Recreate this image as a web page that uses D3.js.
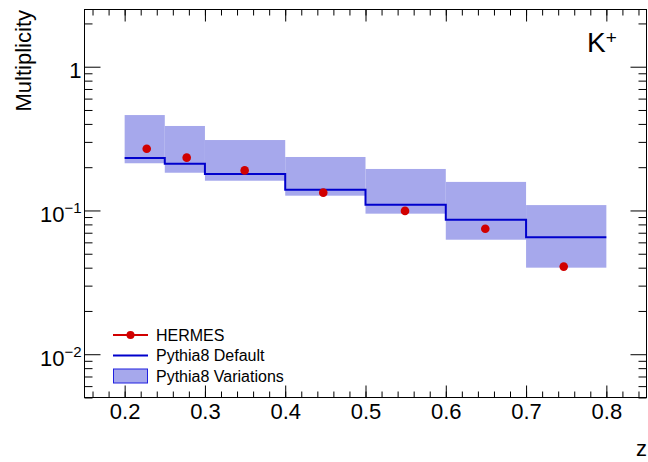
<!DOCTYPE html>
<html>
<head>
<meta charset="utf-8">
<script src="https://d3js.org/d3.v7.min.js"></script>
<style>
  body { margin: 0; background: #fff; }
  svg { display: block; font-family: "Liberation Sans", Arial, Helvetica, sans-serif; }
</style>
</head>
<body>
<div id="body"></div>
<script>
let binEdges = [0.2, 0.25, 0.3, 0.4, 0.5, 0.6, 0.7, 0.8];
let pythiaDefault = [0.232, 0.211, 0.179, 0.1395, 0.1097, 0.0863, 0.0651];
let pythiaUp = [0.461, 0.387, 0.309, 0.2355, 0.1944, 0.158, 0.109];
let pythiaDown = [0.213, 0.183, 0.161, 0.1267, 0.095, 0.0626, 0.040];
let hermesZ = [0.2275, 0.2773, 0.3495, 0.4474, 0.5492, 0.6492, 0.7469];
let hermesMult = [0.269, 0.233, 0.190, 0.133, 0.0993, 0.0747, 0.0407];

let xMajor = [0.2, 0.3, 0.4, 0.5, 0.6, 0.7, 0.8];
let xMinor = d3.range(8, 43).map((d) => d / 50);
let yMajor = [1, 0.1, 0.01];
let yMajorLabels = [["1", ""], ["10", "\u22121"], ["10", "\u22122"]];
let yMinor = [0.005, 0.006, 0.007, 0.008, 0.009,
  0.02, 0.03, 0.04, 0.05, 0.06, 0.07, 0.08, 0.09,
  0.2, 0.3, 0.4, 0.5, 0.6, 0.7, 0.8, 0.9, 2];
let legendLabels = ["HERMES", "Pythia8 Default", "Pythia8 Variations"];

let width = 648,
  height = 462;
let padL = 84.5,
  padR = 646.5,
  padT = 9.5,
  padB = 397.5;

let red = "#d10000",
  blue = "#0000cc",
  band = "#a6a8ec";

let svg = d3
  .select("#body")
  .append("svg")
  .attr("width", width)
  .attr("height", height);

let x = d3.scaleLinear().domain([0.15, 0.85]).range([padL, padR]);
let y = d3.scaleLog().domain([0.005, 2.5]).range([padB, padT]);

//variation band, one box per bin
let bins = pythiaDefault.map((v, i) => ({
  lo: binEdges[i],
  hi: binEdges[i + 1],
  val: v,
  up: pythiaUp[i],
  down: pythiaDown[i],
}));

svg
  .append("g")
  .selectAll("rect")
  .data(bins)
  .enter()
  .append("rect")
  .attr("x", (d) => x(d.lo))
  .attr("width", (d) => x(d.hi) - x(d.lo))
  .attr("y", (d) => y(d.up))
  .attr("height", (d) => y(d.down) - y(d.up))
  .style("fill", band);

//default histogram as a step line
let stepPts = bins.map((d) => [d.lo, d.val]);
stepPts.push([binEdges[binEdges.length - 1], pythiaDefault[pythiaDefault.length - 1]]);
let step = d3
  .line()
  .x((d) => x(d[0]))
  .y((d) => y(d[1]))
  .curve(d3.curveStepAfter);

svg
  .append("path")
  .attr("d", step(stepPts))
  .style("fill", "none")
  .style("stroke", blue)
  .style("stroke-width", 2);

//HERMES data points
svg
  .append("g")
  .selectAll("circle")
  .data(hermesZ)
  .enter()
  .append("circle")
  .attr("cx", (d) => x(d))
  .attr("cy", (d, i) => y(hermesMult[i]))
  .attr("r", 4.3)
  .style("fill", red);

//axes: ticks on all four sides, pointing inwards
function noDomain(g) {
  g.select(".domain").remove();
  g.selectAll("line").style("stroke", "#000");
}

svg
  .append("g")
  .attr("transform", "translate(0," + padB + ")")
  .call(d3.axisBottom(x).tickValues(xMajor).tickSize(-12).tickPadding(6).tickFormat(d3.format(".1f")))
  .call(noDomain)
  .call((g) => g.selectAll("text").style("font-size", "22px").style("fill", "#000"))
  .attr("font-family", null)
  .attr("font-size", null);
svg
  .append("g")
  .attr("transform", "translate(0," + padB + ")")
  .call(d3.axisBottom(x).tickValues(xMinor).tickSize(-6).tickFormat(""))
  .call(noDomain);
svg
  .append("g")
  .attr("transform", "translate(0," + padT + ")")
  .call(d3.axisTop(x).tickValues(xMajor).tickSize(-12).tickFormat(""))
  .call(noDomain);
svg
  .append("g")
  .attr("transform", "translate(0," + padT + ")")
  .call(d3.axisTop(x).tickValues(xMinor).tickSize(-6).tickFormat(""))
  .call(noDomain);

svg
  .append("g")
  .attr("transform", "translate(" + padL + ",0)")
  .call(d3.axisLeft(y).tickValues(yMajor).tickSize(-16).tickFormat(""))
  .call(noDomain);
svg
  .append("g")
  .attr("transform", "translate(" + padL + ",0)")
  .call(d3.axisLeft(y).tickValues(yMinor).tickSize(-8).tickFormat(""))
  .call(noDomain);
svg
  .append("g")
  .attr("transform", "translate(" + padR + ",0)")
  .call(d3.axisRight(y).tickValues(yMajor).tickSize(-16).tickFormat(""))
  .call(noDomain);
svg
  .append("g")
  .attr("transform", "translate(" + padR + ",0)")
  .call(d3.axisRight(y).tickValues(yMinor).tickSize(-8).tickFormat(""))
  .call(noDomain);

//y labels with superscript exponents
let yLab = svg
  .append("g")
  .selectAll("text")
  .data(yMajor)
  .enter()
  .append("text")
  .attr("x", padL - 3)
  .attr("y", (d) => y(d) + 11.5)
  .attr("text-anchor", "end")
  .style("font-size", "22px");
yLab.append("tspan").text((d, i) => yMajorLabels[i][0]);
yLab
  .append("tspan")
  .attr("dy", -8.5)
  .style("font-size", "15px")
  .text((d, i) => yMajorLabels[i][1]);

//frame
svg
  .append("rect")
  .attr("x", padL)
  .attr("y", padT)
  .attr("width", padR - padL)
  .attr("height", padB - padT)
  .style("fill", "none")
  .style("stroke", "#000")
  .style("stroke-width", 1);

//titles
svg
  .append("text")
  .attr("transform", "translate(31," + (padT + 0.5) + ") rotate(-90)")
  .attr("text-anchor", "end")
  .style("font-size", "22px")
  .text("Multiplicity");

svg
  .append("text")
  .attr("x", 647)
  .attr("y", 456)
  .attr("text-anchor", "end")
  .style("font-size", "22px")
  .text("z");

let kLab = svg
  .append("text")
  .attr("x", 587)
  .attr("y", 52)
  .style("font-size", "28px");
kLab.append("tspan").text("K");
kLab.append("tspan").attr("dy", -8).style("font-size", "19px").text("+");

//legend
let legend = svg.append("g").attr("transform", "translate(113,335)");
let row = 20.5;

legend
  .append("line")
  .attr("x1", 0)
  .attr("x2", 35)
  .attr("y1", 0)
  .attr("y2", 0)
  .style("stroke", red)
  .style("stroke-width", 2);
legend.append("circle").attr("cx", 17.5).attr("cy", 0).attr("r", 4).style("fill", red);

legend
  .append("line")
  .attr("x1", 0)
  .attr("x2", 35)
  .attr("y1", row)
  .attr("y2", row)
  .style("stroke", blue)
  .style("stroke-width", 2);

legend
  .append("rect")
  .attr("x", 0.5)
  .attr("y", 2 * row - 7)
  .attr("width", 34)
  .attr("height", 14)
  .style("fill", band)
  .style("stroke", "#2020e0")
  .style("stroke-width", 1);

legend
  .selectAll(".label")
  .data(legendLabels)
  .enter()
  .append("text")
  .attr("class", "label")
  .attr("x", 43)
  .attr("y", (d, i) => i * row + 5.5)
  .style("font-size", "16px")
  .text((d) => d);
</script>
</body>
</html>
